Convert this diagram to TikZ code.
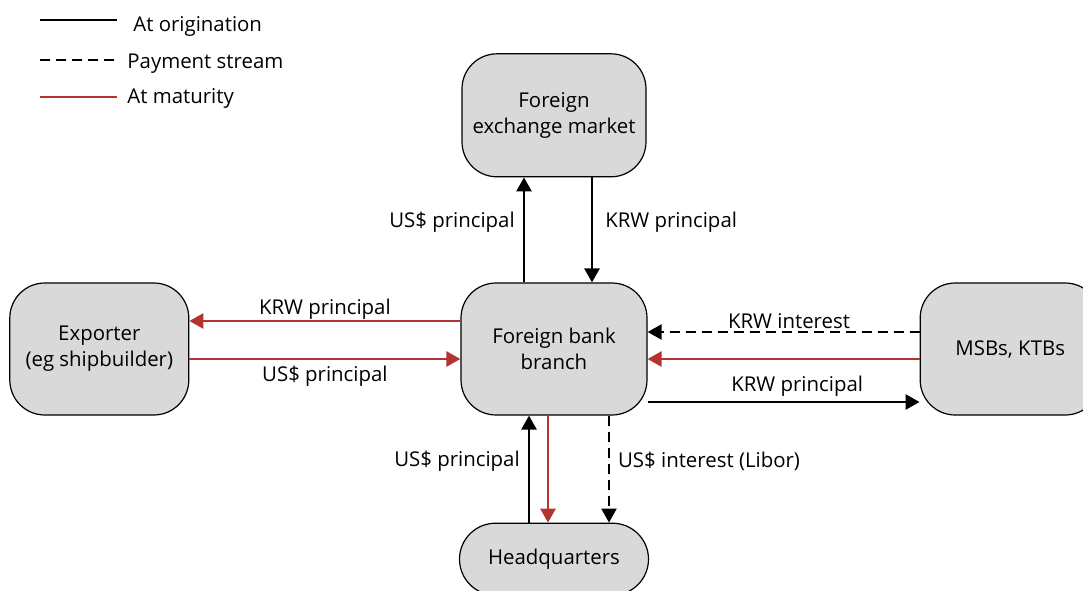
\documentclass[tikz,border=0pt]{standalone}
\usepackage{fontspec}
\setmainfont{Open Sans}
\usepackage{xcolor}
\usetikzlibrary{positioning,arrows.meta}
\definecolor{boxgray}{RGB}{217,217,217}
\definecolor{matred}{RGB}{180,50,48}
\tikzset{
  party/.style={ % image of a market participant
    draw, rectangle, rounded corners=17.5pt, fill=boxgray,
    line width=0.6pt, align=center, text=black, inner sep=2pt,
    font=\fontsize{10.2}{13}\selectfont
  },
  orig/.style={ % flow at origination
    line width=1.3pt, black, -{Triangle[length=7pt,width=7.5pt]}
  },
  stream/.style={ % payment stream
    line width=1.1pt, black, dash pattern=on 5pt off 3pt,
    -{Triangle[length=7pt,width=7.5pt]}
  },
  mature/.style={ % flow at maturity
    line width=1.3pt, matred, -{Triangle[length=7pt,width=7.5pt]}
  },
  flowlabel/.style={ % text next to a flow
    font=\fontsize{10.2}{12}\selectfont, inner sep=4pt, text=black
  }
}

\begin{document}
\begin{tikzpicture}[x=0.5pt, y=-0.5pt]
      \useasboundingbox (0,0) rectangle (1083,590);

      % parties
      \node[party, minimum width=93pt, minimum height=66pt] (bank) at (554,349) {Foreign bank\\branch};
      \node[party, minimum width=92pt, minimum height=61.5pt, above=52.5pt of bank] (fx) {Foreign\\exchange market};
      \node[party, minimum width=89.5pt, minimum height=66pt, left=135.5pt of bank] (exporter) {Exporter\\(eg shipbuilder)};
      \node[party, minimum width=90pt, minimum height=66pt, right=136pt of bank] (msb) {MSBs, KTBs};
      \node[party, minimum width=94.5pt, minimum height=36pt, rounded corners=18pt, below=53.5pt of bank] (hq) {Headquarters};

      % legend
      \coordinate (l1a) at (40,20);  \coordinate (l1b) at (117,20);
      \coordinate (l2a) at (40,60);  \coordinate (l2b) at (117,60);
      \coordinate (l3a) at (40,97);  \coordinate (l3b) at (117,97);
      \draw[orig, -] (l1a) -- (l1b);
      \draw[stream, -] (l2a) -- (l2b);
      \draw[mature, -] (l3a) -- (l3b);
      \node[flowlabel, anchor=west, inner sep=0pt] (leg_orig) at (133,26) {At origination};
      \node[flowlabel, anchor=west, inner sep=0pt] (leg_stream) at (127,64) {Payment stream};
      \node[flowlabel, anchor=west, inner sep=0pt] (leg_mature) at (127,98) {At maturity};

      % bank <-> foreign exchange market
      \draw[orig] ([xshift=-15pt]bank.north) -- node[flowlabel, left, pos=0.57] {US\$ principal} ([xshift=-15pt]fx.south);
      \draw[orig] ([xshift=19pt]fx.south) -- node[flowlabel, right, pos=0.43, inner sep=6pt] {KRW principal} ([xshift=19pt]bank.north);

      % bank <-> exporter
      \draw[mature] ([yshift=14pt]bank.west) -- node[flowlabel, above, inner sep=0pt] {KRW principal} ([yshift=14pt]exporter.east);
      \draw[mature] ([yshift=-5pt]exporter.east) -- node[flowlabel, below, inner sep=3pt] {US\$ principal} ([yshift=-5pt]bank.west);

      % bank <-> MSBs, KTBs
      \draw[stream] ([yshift=8.5pt]msb.west) -- node[flowlabel, above, pos=0.48, inner sep=1pt] {KRW interest} ([yshift=8.5pt]bank.east);
      \draw[mature] ([yshift=-5pt]msb.west) -- ([yshift=-5pt]bank.east);
      \draw[orig] ([yshift=-26.5pt]bank.east) -- node[flowlabel, above, pos=0.55, inner sep=2pt] {KRW principal} ([yshift=-26.5pt]msb.west);

      % bank <-> headquarters
      \draw[orig] ([xshift=-12.5pt]hq.north) -- node[flowlabel, left, pos=0.57] {US\$ principal} ([xshift=-12.5pt]bank.south);
      \draw[mature] ([xshift=-3pt]bank.south) -- ([xshift=-3pt]hq.north);
      \draw[stream] ([xshift=27.5pt]bank.south) -- node[flowlabel, right, pos=0.43] {US\$ interest (Libor)} ([xshift=27.5pt]hq.north);
\end{tikzpicture}
\end{document}
